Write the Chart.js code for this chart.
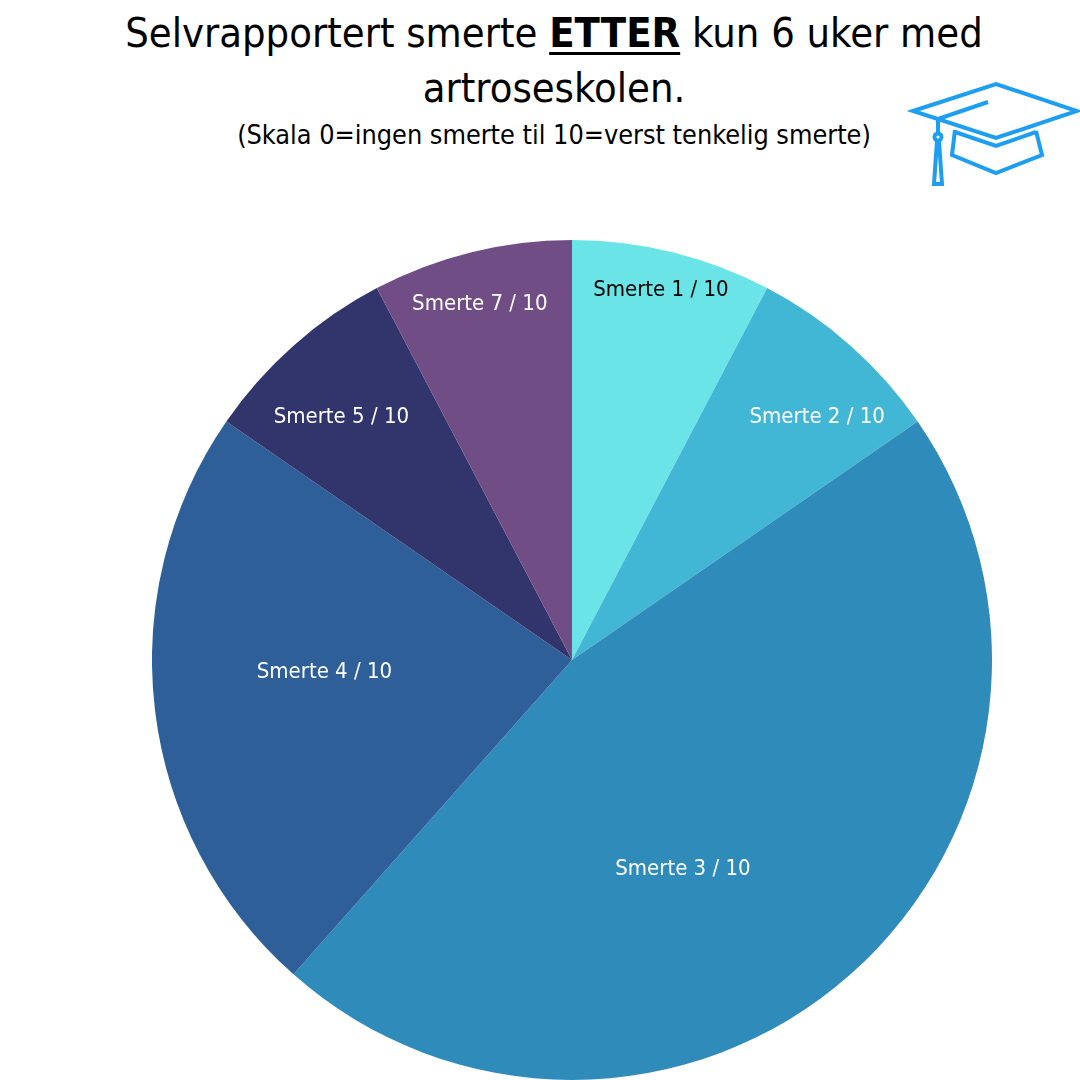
<!DOCTYPE html>
<html>
<head>
<meta charset="utf-8">
<script src="https://cdn.jsdelivr.net/npm/chart.js@4"></script>
<style>
  body { margin: 0; width: 1080px; height: 1080px; background: #fff; overflow: hidden; position: relative; font-family: "DejaVu Sans Condensed", "Liberation Sans", sans-serif; }
  #title { position: absolute; left: 0; top: 6px; width: 1108px; text-align: center; font-size: 41.3px; line-height: 55px; color: #000; }
  #title b { text-decoration: underline; text-decoration-thickness: 3px; text-underline-offset: 5px; }
  #sub { position: absolute; left: 0; top: 119px; width: 1108px; text-align: center; font-size: 26.8px; color: #000; }
  #wrap { position: absolute; left: 152px; top: 240px; width: 840px; height: 840px; }
  #cap { position: absolute; left: 0; top: 0; }
</style>
</head>
<body>
<div id="title">Selvrapportert smerte <b>ETTER</b> kun 6 uker med<br>artroseskolen.</div>
<div id="sub">(Skala 0=ingen smerte til 10=verst tenkelig smerte)</div>
<svg id="cap" width="1080" height="200" viewBox="0 0 1080 200">
  <g fill="none" stroke="#1E9EF0" stroke-width="4" stroke-linejoin="miter">
    <polygon points="913,111 996,84 1077,111 996,138"/>
    <line x1="938" y1="119" x2="988" y2="102"/>
    <polyline points="955,130 952,155 996,173 1042,155 1036,131"/>
    <polyline points="955,132 996,146 1036,132"/>
    <line x1="938" y1="119" x2="938" y2="133"/>
    <circle cx="938" cy="137" r="3.5"/>
    <polygon points="937,141 939,141 942,184 934,184"/>
  </g>
</svg>
<div id="wrap"><canvas id="pie"></canvas></div>
<script>
const labels = ['Smerte 1 / 10', 'Smerte 2 / 10', 'Smerte 3 / 10', 'Smerte 4 / 10', 'Smerte 5 / 10', 'Smerte 7 / 10'];
const counts = [1, 1, 6, 3, 1, 1];
const colors = ['#6AE4E7', '#42B6D5', '#2E8BBA', '#2E5F98', '#31356B', '#714D85'];
const textColors = ['#000000', '#ffffff', '#ffffff', '#ffffff', '#ffffff', '#ffffff'];

// where each label sits inside its slice: fraction of radius, angle nudge in degrees
const labelRadius = [0.91, 0.825, 0.56, 0.59, 0.80, 0.88];
const labelNudge = [-0.4, 3.5, 13.4, 4.5, -1.8, -0.6];

const sliceLabels = {
    id: 'sliceLabels',
    afterDatasetsDraw(chart) {
        const ctx = chart.ctx;
        const meta = chart.getDatasetMeta(0);
        ctx.save();
        ctx.font = '22px "DejaVu Sans Condensed", sans-serif';
        ctx.textAlign = 'center';
        ctx.textBaseline = 'middle';
        meta.data.forEach((arc, i) => {
            const p = arc.getProps(['x', 'y', 'startAngle', 'endAngle', 'outerRadius'], true);
            const a = (p.startAngle + p.endAngle) / 2 + labelNudge[i] * Math.PI / 180;
            const r = p.outerRadius * labelRadius[i];
            ctx.fillStyle = textColors[i];
            ctx.fillText(labels[i], p.x + Math.cos(a) * r, p.y + Math.sin(a) * r + 2);
        });
        ctx.restore();
    }
};

const ctx = document.getElementById('pie').getContext('2d');
new Chart(ctx, {
    type: 'pie',
    data: {
        labels: labels,
        datasets: [{
            data: counts,
            backgroundColor: colors,
            borderWidth: 0
        }]
    },
    options: {
        responsive: true,
        maintainAspectRatio: false,
        animation: false,
        layout: { padding: 0 },
        plugins: {
            legend: { display: false },
            tooltip: { enabled: false }
        }
    },
    plugins: [sliceLabels]
});
</script>
</body>
</html>
